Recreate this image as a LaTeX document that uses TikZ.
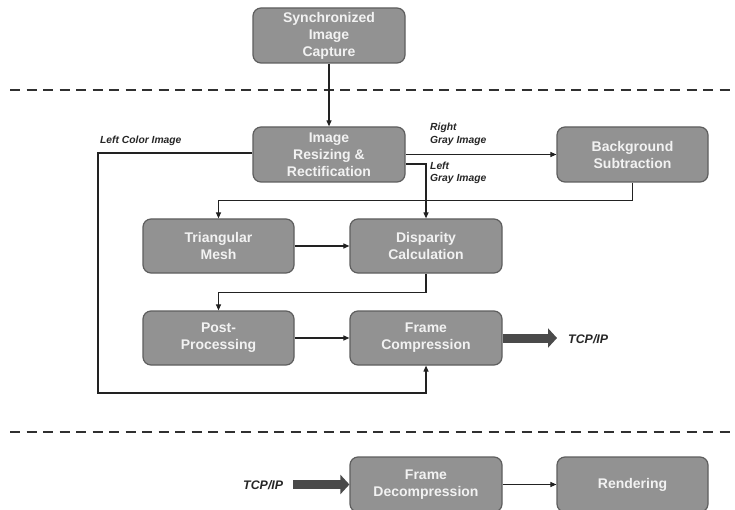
\documentclass[tikz,border=0pt]{standalone}
\usepackage{fontspec}
\setmainfont{Liberation Sans}
\usetikzlibrary{arrows.meta,calc}
\definecolor{boxfill}{HTML}{929292}
\definecolor{boxborder}{HTML}{5E5E5E}
\definecolor{boxtext}{HTML}{F2F2F2}
\definecolor{linecol}{HTML}{222222}
\definecolor{dashcol}{HTML}{303030}
\definecolor{fatcol}{HTML}{4A4A4A}
\begin{document}
\begin{tikzpicture}[x=1pt,y=-1pt,
  box/.style={draw=boxborder, fill=boxfill, rounded corners=8pt, line width=1.2pt,
    minimum width=152pt, minimum height=55pt, inner sep=0pt, align=center,
    text=boxtext, font=\fontsize{14}{17}\selectfont\bfseries},
  conn/.style={draw=linecol, line width=1.1pt, -{Triangle[length=6pt,width=5pt]}},
  lbl/.style={font=\fontsize{10.3}{12.5}\selectfont\bfseries\itshape, align=left,
    inner sep=0pt, anchor=west, text=black!85},
  netlbl/.style={font=\fontsize{12.4}{14}\selectfont\bfseries\itshape,
    inner sep=0pt, anchor=west, text=black!85},
  dashline/.style={draw=dashcol, line width=2.5pt, dash pattern=on 10pt off 6.5pt},
  fat/.style={draw=fatcol, line width=9pt, -{Triangle[length=9pt,width=19pt]}}
]
\useasboundingbox (0,0) rectangle (735,510);

% dashed separators
\coordinate (d1a) at (10,90);
\coordinate (d1b) at (735,90);
\coordinate (d2a) at (10,432);
\coordinate (d2b) at (735,432);
\draw[dashline] (d1a) -- (d1b);
\draw[dashline] (d2a) -- (d2b);

% boxes
\node[box] (sync)   at (329,35.5)   {Synchronized\\Image\\Capture};
\node[box] (resize) at (329,154.5)  {Image\\Resizing \&\\Rectification};
\node[box, minimum width=151pt] (bg) at (632.5,154.5) {Background\\Subtraction};
\node[box, minimum width=151pt, minimum height=54pt] (tri) at (218.5,246) {Triangular\\Mesh};
\node[box, minimum height=54pt] (disp) at (426,246) {Disparity\\Calculation};
\node[box, minimum width=151pt, minimum height=54pt] (post) at (218.5,338) {Post-\\Processing};
\node[box, minimum height=54pt] (fc) at (426,338) {Frame\\Compression};
\node[box] (fd) at (426,484.5) {Frame\\Decompression};
\node[box, minimum width=151pt] (render) at (632.5,484.5) {Rendering};

% connectors
\draw[conn] (sync.south) -- (resize.north);
\coordinate (lc) at (98,393);
\draw[conn] ([yshift=1.5pt]resize.west) -| (lc) -| (fc.south);
\draw[conn] (resize.east) -- (bg.west);
\draw[conn] ([yshift=-9.5pt]resize.east) -| (disp.north);
\draw[conn] (bg.south) -- ++(0,18) -| (tri.north);
\draw[conn] (tri.east) -- (disp.west);
\draw[conn] (disp.south) -- ++(0,19) -| (post.north);
\draw[conn] (post.east) -- (fc.west);
\draw[conn] (fd.east) -- (render.west);

% network arrows
\coordinate (out) at (557,338);
\draw[fat] (fc.east) -- (out);
\coordinate (in) at (293,484.5);
\draw[fat] (in) -- (fd.west);

% labels
\node[lbl] (lcl) at (100,141) {Left Color Image};
\node[lbl] (rgl) at (430,134.5) {Right\\Gray Image};
\node[lbl] (lgl) at (430,173) {Left\\Gray Image};
\node[netlbl] (tcp1) at (568,339) {TCP/IP};
\node[netlbl] (tcp2) at (243,485) {TCP/IP};
\end{tikzpicture}
\end{document}
